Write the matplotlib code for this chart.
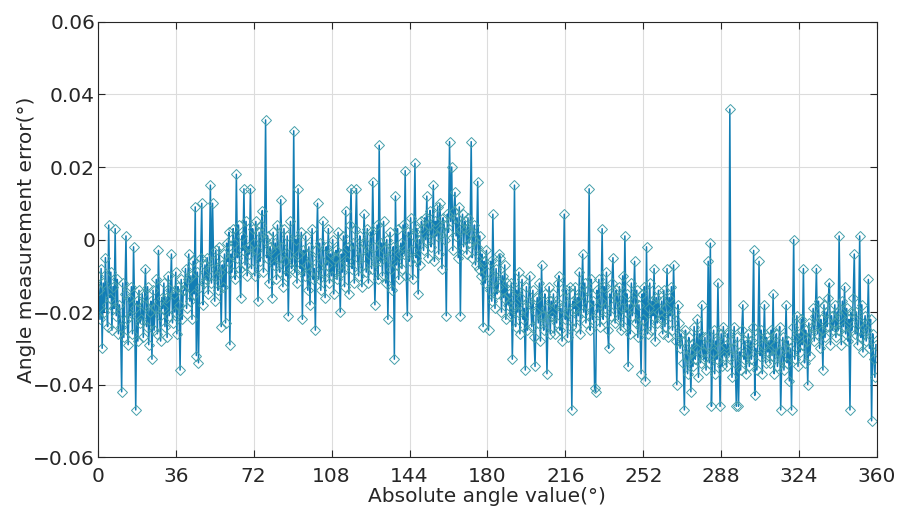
import matplotlib
matplotlib.use('Agg')
import matplotlib.pyplot as plt
import numpy as np
from matplotlib.ticker import FuncFormatter

# angle error readings in units of 1e-3 degree, 0.5 deg apart (20 per 10 deg)
err_0_90 = [
    -10, -14, -22, -8, -30, -12, -20, -5, -18, -24, 4, -16, -9, -25, -13, -19, 3, -21, -11, -26,
    -18, -24, -42, -12, -27, -15, 1, -22, -29, -16, -21, -13, -26, -2, -19, -47, -17, -28, -14, -23,
    -22, -15, -27, -18, -8, -24, -13, -29, -20, -17, -33, -14, -25, -19, -11, -26, -3, -21, -28, -16,
    -19, -12, -24, -16, -27, -10, -21, -14, -4, -23, -15, -20, -9, -26, -13, -18, -36, -11, -22, -14,
    -14, -8, -19, -11, -4, -17, -10, -22, -6, -15, 9, -32, -9, -34, -13, -5, 10, -18, -12, -7,
    -11, -5, -15, -8, 15, -12, 10, -6, -17, -3, -10, -14, -2, -9, -24, -7, -13, -4, -23, -1,
    -6, 2, -29, -4, -9, 3, -1, -11, 18, -5, 4, -8, -16, 1, -3, 14, -7, 5, -10, -2,
    -4, 14, -8, 3, -1, -10, 5, -3, -17, 2, -6, 4, 8, -9, 0, 33, -5, 1, -12, -2,
    -3, -16, 2, -7, -1, -11, 4, -5, -9, 11, -2, -13, 3, -6, -10, 1, -21, -4, 5, -8,
]
err_90_180 = [
    -6, 30, -9, 0, -12, 14, -4, -8, 2, -22, -3, -10, 1, -7, -14, -2, -18, -5, 3, -11,
    -8, -25, -3, 10, -11, -1, -14, -6, 5, -9, -16, -2, -7, 3, -12, -4, -10, 0, -15, -5,
    -3, -11, 2, -7, -20, -4, -9, 1, -13, 8, -6, -2, -15, 4, 14, -8, -1, -12, 3, 14,
    -5, -10, 1, -3, -13, -7, 7, -1, -9, 3, -12, -4, 2, -8, 16, -2, -18, -6, 4, -11,
    26, -6, -1, -10, 5, -3, -12, 0, -22, -5, 2, -8, -14, -2, -33, 12, -7, 3, -11, -4,
    -1, -8, 4, -4, 19, -10, -21, 2, -6, 6, -3, -11, 1, 21, -5, 3, -15, 0, -7, 5,
    3, -3, 6, 0, 12, -5, 4, 8, -2, 2, 15, -6, 5, 1, 9, -4, 10, 3, -8, 6,
    4, 0, -21, 7, 2, 27, 5, 20, -3, 8, 13, 1, 6, -5, 9, -21, 3, 7, -2, 5,
    3, -4, 6, -1, 2, 27, -5, 0, 4, -7, -2, 16, -8, 1, -10, -4, -24, -6, -12, -3,
]
err_180_270 = [
    -9, -25, -14, -6, -17, 7, -11, -19, -8, -15, -13, -4, -5, -20, -10, -16, -7, -22, -12, -18,
    -15, -21, -12, -33, -18, 15, -24, -14, -20, -9, -26, -16, -11, -22, -19, -36, -13, -25, -17, -10,
    -18, -24, -14, -27, -35, -20, -16, -23, -12, -28, -7, -21, -25, -15, -19, -37, -22, -13, -26, -17,
    -21, -15, -26, -18, -23, -12, -10, -25, -19, -28, -16, 7, -22, -14, -27, -20, -13, -24, -47, -17,
    -19, -13, -24, -16, -21, -9, -26, -15, -4, -20, -12, -23, -18, -14, 14, -25, -11, -22, -17, -41,
    -42, -14, -20, -11, -24, -17, 3, -22, -13, -19, -9, -25, -30, -15, -21, -12, -5, -18, -23, -14,
    -16, -22, -13, -25, -19, -10, -24, 1, -20, -15, -35, -18, -26, -12, -21, -17, -6, -23, -14, -27,
    -18, -24, -37, -15, -22, -13, -39, -2, -26, -19, -12, -25, -17, -21, -8, -28, -16, -23, -14, -20,
    -22, -17, -26, -14, -24, -19, -8, -27, -16, -21, -13, -25, -7, -20, -28, -40, -18, -23, -30, -26,
]
err_270_360 = [
    -28, -34, -47, -25, -32, -37, -27, -31, -42, -29, -35, -24, -33, -30, -22, -38, -26, -34, -18, -31,
    -33, -27, -36, -29, -6, -34, -1, -46, -31, -25, -37, -28, -33, -12, -30, -46, -26, -35, -24, -32,
    -29, -35, -26, -32, 36, -28, -38, -30, -24, -34, -46, -27, -46, -31, -36, -25, -18, -33, -28, -37,
    -31, -26, -35, -28, -33, -24, -3, -43, -30, -36, -27, -6, -32, -25, -37, -29, -18, -34, -27, -31,
    -28, -34, -25, -32, -15, -37, -29, -26, -35, -31, -24, -47, -33, -27, -36, -30, -18, -34, -28, -39,
    -30, -47, -24, 0, -33, -27, -21, -35, -26, -31, -22, -29, -8, -34, -25, -28, -40, -23, -32, -26,
    -24, -19, -28, -21, -8, -26, -17, -30, -22, -25, -36, -18, -27, -20, -24, -16, -12, -29, -21, -25,
    -23, -18, -27, -20, -25, 1, -21, -29, -17, -24, -13, -26, -19, -28, -22, -47, -20, -25, -16, -4,
    -26, -20, -29, -23, 1, -27, -18, -31, -24, -21, -28, -25, -11, -30, -22, -50, -26, -33, -38, -29,
]

x_ticks = [0, 36, 72, 108, 144, 180, 216, 252, 288, 324, 360]
y_ticks = [-0.06, -0.04, -0.02, 0, 0.02, 0.04, 0.06]

err = np.array(err_0_90 + err_90_180 + err_180_270 + err_270_360) * 1e-3
angle = np.arange(len(err)) * 0.5

plt.rcParams['font.family'] = 'DejaVu Sans'
fig = plt.figure(figsize=(9.06, 5.23), dpi=100)
ax = fig.add_axes([0.108, 0.126, 0.860, 0.832])

ax.plot(angle, err, color='#127eb5', linewidth=1.1, marker='D', markersize=5,
        markerfacecolor='none', markeredgecolor='#459fab', markeredgewidth=0.7)

ax.set_xlim(0, 360)
ax.set_ylim(-0.06, 0.06)
ax.set_xticks(x_ticks)
ax.set_yticks(y_ticks)


def fmt(v, pos):
    if abs(v) < 1e-12:
        return '0'
    return ('%.2f' % v).replace('-', '\u2212')


ax.yaxis.set_major_formatter(FuncFormatter(fmt))
ax.grid(True, color='#dcdcdc', linewidth=0.8)
ax.set_axisbelow(True)
ax.tick_params(direction='in', length=5, top=True, right=True, labelsize=14.5,
               colors='#262626', width=0.8)
ax.tick_params(axis='x', pad=7)
ax.tick_params(axis='y', pad=2)
for s in ax.spines.values():
    s.set_color('#262626')
    s.set_linewidth(0.8)

ax.set_xlabel('Absolute angle value(°)', fontsize=14.5, color='#262626', labelpad=1)
ax.set_ylabel('Angle measurement error(°)', fontsize=14.5, color='#262626', labelpad=-2)

fig.savefig('out.png', dpi=100)
